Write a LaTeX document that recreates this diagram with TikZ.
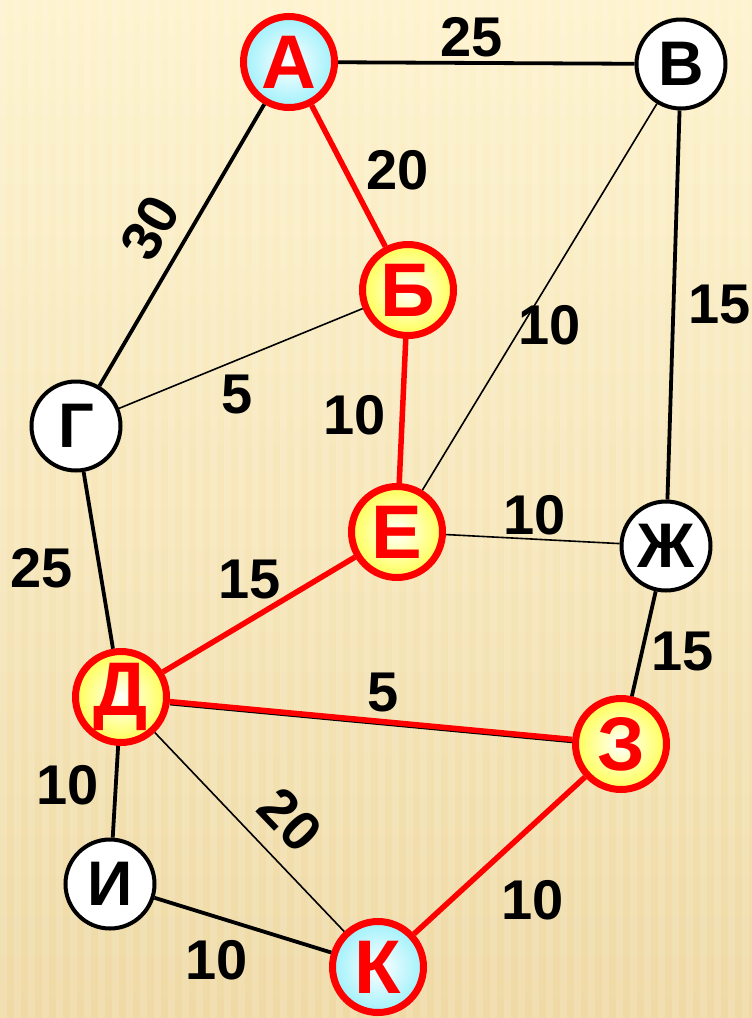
\documentclass[tikz,border=0pt]{standalone}
\usepackage{fontspec}
\setmainfont{Liberation Sans}
\usetikzlibrary{positioning}
\definecolor{bgtop}{HTML}{FEF3CE}
\definecolor{bgbot}{HTML}{EFDAA6}
\definecolor{cy}{HTML}{9FF1FB}
\definecolor{ye}{HTML}{FFFF55}
\definecolor{rd}{HTML}{FF0000}
\tikzset{
  vtx/.style={circle,minimum size=89pt,inner sep=0pt,line width=4pt,draw=black,
    fill=white,font=\bfseries\fontsize{63}{63}\selectfont},
  vred/.style={vtx,minimum size=91pt,draw=rd,line width=7pt,text=rd,
    font=\bfseries\fontsize{76}{76}\selectfont,shading=radial,inner color=white},
  vcyan/.style={vred,outer color=cy},
  vyel/.style={vred,outer color=ye},
  wgt/.style={font=\bfseries\fontsize{56}{56}\selectfont},
  eb/.style={line width=3.8pt},
  et/.style={line width=1.6pt},
  er/.style={line width=5.5pt,draw=rd},
}
\begin{document}
\begin{tikzpicture}[x=1pt,y=-1pt]
  \useasboundingbox (0,0) rectangle (752,1018);
  % background
  \shade[top color=bgtop,bottom color=bgbot] (0,0) rectangle (752,1018);
  \foreach \sx in {0,14,...,742}
    \fill[white,opacity=0.13] (\sx,0) rectangle ++(7,1018);
  % vertices
  \node[vcyan] (A)  at (289,62)  {А};
  \node[vtx]   (V)  at (681,64)  {В};
  \node[vyel]  (B)  at (408,290) {Б};
  \node[vtx]   (G)  at (76,426)  {Г};
  \node[vyel]  (E)  at (397,532) {Е};
  \node[vtx]   (Zh) at (666,546) {Ж};
  \node[vyel]  (D)  at (121,697) {Д};
  \node[vyel]  (Z)  at (621,744) {З};
  \node[vtx]   (I)  at (110,884) {И};
  \node[vcyan] (K)  at (378,967) {К};
  % edges
  \draw[eb] (A) -- (V);
  \draw[eb] (A) -- (G);
  \draw[er] (A) -- (B);
  \draw[et] (V) -- (E);
  \draw[eb] (V) -- (Zh);
  \draw[et] (B) -- (G);
  \draw[er] (B) -- (E);
  \draw[eb] (G) -- (D);
  \draw[et] (E) -- (Zh);
  \draw[er] (E) -- (D);
  \draw[eb] (Zh) -- (Z);
  \draw[et,transform canvas={yshift=-3pt}] (D) -- (Z);
  \draw[er] (D) -- (Z);
  \draw[eb] (D) -- (I);
  \draw[et] (D) -- (K);
  \draw[eb] (I) -- (K);
  \draw[er] (Z) -- (K);
  % weights
  \node[wgt] (wAV)  at (472,37)  {25};
  \node[wgt,rotate=60] (wAG) at (150,228) {30};
  \node[wgt] (wAB)  at (398,170) {20};
  \node[wgt] (wVE)  at (550,325) {10};
  \node[wgt] (wVZh) at (720,305) {15};
  \node[wgt] (wBG)  at (237,395) {5};
  \node[wgt] (wBE)  at (355,415) {10};
  \node[wgt] (wGD)  at (42,568)  {25};
  \node[wgt] (wEZh) at (535,515) {10};
  \node[wgt] (wED)  at (250,580) {15};
  \node[wgt] (wZhZ) at (683,652) {15};
  \node[wgt] (wDZ)  at (383,692) {5};
  \node[wgt] (wDI)  at (68,785)  {10};
  \node[wgt,rotate=-46] (wDK) at (290,820) {20};
  \node[wgt] (wIK)  at (217,960) {10};
  \node[wgt] (wZK)  at (533,900) {10};
\end{tikzpicture}
\end{document}
